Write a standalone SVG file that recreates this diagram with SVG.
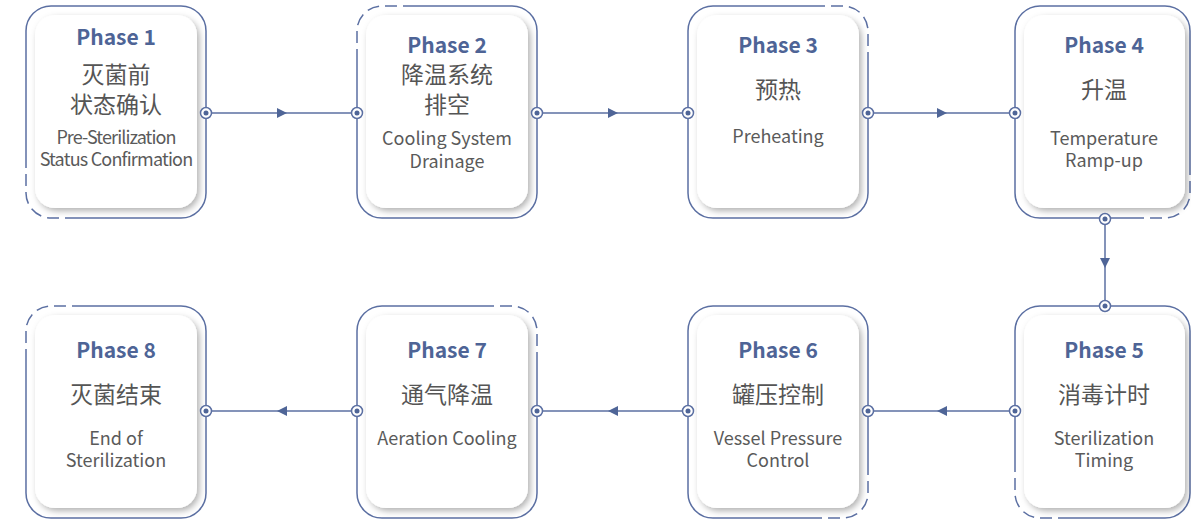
<svg xmlns="http://www.w3.org/2000/svg" width="1191" height="521" viewBox="0 0 1191 521">
<defs>
<style>
.frame{fill:none;stroke:#5b6fa2;stroke-width:1.5}
.dash{fill:none;stroke:#5b6fa2;stroke-width:1.5;stroke-dasharray:12 6}
.card{fill:#fff;filter:url(#sh)}
.ph{font-family:"Noto Sans CJK SC","Noto Sans",sans-serif;font-weight:bold;font-size:21px;fill:#4e6496;text-anchor:middle}
.cn{font-family:"Noto Sans CJK SC",sans-serif;font-size:23px;fill:#555;text-anchor:middle}
.en{font-family:"Noto Sans CJK SC","Noto Sans",sans-serif;font-size:18px;fill:#5a5a5a;text-anchor:middle}
.conn{fill:none;stroke:#5b6fa2;stroke-width:1.5;marker-mid:url(#arr)}
.port{fill:#fff;stroke:#5b6fa2;stroke-width:1.5}
.dot{fill:#4f6597}
</style>
<filter id="sh" x="-10%" y="-10%" width="125%" height="125%">
<feDropShadow dx="2.5" dy="3" stdDeviation="3" flood-color="#000" flood-opacity="0.3"/>
</filter>
<marker id="arr" viewBox="0 0 10 10" refX="5" refY="5" markerWidth="10" markerHeight="10" markerUnits="userSpaceOnUse" orient="auto">
<path d="M0,0 L10,5 L0,10 z" fill="#4f6597"/>
</marker>
</defs>
<rect width="1191" height="521" fill="#fff"/>

<g id="connectors">
<path class="conn" d="M206,113 L282,113 L357,113"/>
<path class="conn" d="M537,113 L613,113 L688,113"/>
<path class="conn" d="M868,113 L942,113 L1015,113"/>
<path class="conn" d="M1105,219 L1105,263 L1105,306"/>
<path class="conn" d="M1015,411 L942,411 L868,411"/>
<path class="conn" d="M688,411 L613,411 L537,411"/>
<path class="conn" d="M357,411 L282,411 L206,411"/>
</g>

<g id="node1">
<path class="frame" d="M26,163 V31 A25,25 0 0 1 51,6 H181 A25,25 0 0 1 206,31 V193 A25,25 0 0 1 181,218 H77"/>
<path class="dash" d="M77,218 H51 A25,25 0 0 1 26,193 V163"/>
<rect class="card" x="35" y="15" width="162" height="193" rx="20"/>
<text class="ph" x="116" y="45">Phase 1</text>
<text class="cn" x="116" y="83">灭菌前</text>
<text class="cn" x="116" y="113">状态确认</text>
<text class="en" x="116" y="144" letter-spacing="-0.9">Pre-Sterilization</text>
<text class="en" x="116" y="166" letter-spacing="-0.8">Status Confirmation</text>
</g>

<g id="node2">
<path class="frame" d="M412,6 H512 A25,25 0 0 1 537,31 V193 A25,25 0 0 1 512,218 H382 A25,25 0 0 1 357,193 V61"/>
<path class="dash" d="M357,61 V31 A25,25 0 0 1 382,6 H412"/>
<rect class="card" x="366" y="15" width="162" height="193" rx="20"/>
<text class="ph" x="447" y="53">Phase 2</text>
<text class="cn" x="447" y="83">降温系统</text>
<text class="cn" x="447" y="113">排空</text>
<text class="en" x="447" y="145">Cooling System</text>
<text class="en" x="447" y="168">Drainage</text>
</g>

<g id="node3">
<path class="frame" d="M868,61 V193 A25,25 0 0 1 843,218 H713 A25,25 0 0 1 688,193 V31 A25,25 0 0 1 713,6 H813"/>
<path class="dash" d="M813,6 H843 A25,25 0 0 1 868,31 V61"/>
<rect class="card" x="697" y="15" width="162" height="193" rx="20"/>
<text class="ph" x="778" y="53">Phase 3</text>
<text class="cn" x="778" y="98">预热</text>
<text class="en" x="778" y="143">Preheating</text>
</g>

<g id="node4">
<path class="frame" d="M1135,218 H1040 A25,25 0 0 1 1015,193 V31 A25,25 0 0 1 1040,6 H1165 A25,25 0 0 1 1190,31 V163"/>
<path class="dash" d="M1190,163 V193 A25,25 0 0 1 1165,218 H1135"/>
<rect class="card" x="1024" y="15" width="161" height="193" rx="20"/>
<text class="ph" x="1104" y="53">Phase 4</text>
<text class="cn" x="1104" y="98">升温</text>
<text class="en" x="1104" y="145">Temperature</text>
<text class="en" x="1104" y="167">Ramp-up</text>
</g>

<g id="node5">
<path class="frame" d="M1015,463 V331 A25,25 0 0 1 1040,306 H1165 A25,25 0 0 1 1190,331 V493 A25,25 0 0 1 1165,518 H1070"/>
<path class="dash" d="M1070,518 H1040 A25,25 0 0 1 1015,493 V463"/>
<rect class="card" x="1024" y="315" width="161" height="193" rx="20"/>
<text class="ph" x="1104" y="358">Phase 5</text>
<text class="cn" x="1104" y="403">消毒计时</text>
<text class="en" x="1104" y="445">Sterilization</text>
<text class="en" x="1104" y="467">Timing</text>
</g>

<g id="node6">
<path class="frame" d="M813,518 H713 A25,25 0 0 1 688,493 V331 A25,25 0 0 1 713,306 H843 A25,25 0 0 1 868,331 V463"/>
<path class="dash" d="M868,463 V493 A25,25 0 0 1 843,518 H813"/>
<rect class="card" x="697" y="315" width="162" height="193" rx="20"/>
<text class="ph" x="778" y="358">Phase 6</text>
<text class="cn" x="778" y="403">罐压控制</text>
<text class="en" x="778" y="445">Vessel Pressure</text>
<text class="en" x="778" y="467">Control</text>
</g>

<g id="node7">
<path class="frame" d="M537,361 V493 A25,25 0 0 1 512,518 H382 A25,25 0 0 1 357,493 V331 A25,25 0 0 1 382,306 H482"/>
<path class="dash" d="M482,306 H512 A25,25 0 0 1 537,331 V361"/>
<rect class="card" x="366" y="315" width="162" height="193" rx="20"/>
<text class="ph" x="447" y="358">Phase 7</text>
<text class="cn" x="447" y="403">通气降温</text>
<text class="en" x="447" y="445">Aeration Cooling</text>
</g>

<g id="node8">
<path class="frame" d="M81,306 H181 A25,25 0 0 1 206,331 V493 A25,25 0 0 1 181,518 H51 A25,25 0 0 1 26,493 V361"/>
<path class="dash" d="M26,361 V331 A25,25 0 0 1 51,306 H81"/>
<rect class="card" x="35" y="315" width="162" height="193" rx="20"/>
<text class="ph" x="116" y="358">Phase 8</text>
<text class="cn" x="116" y="403">灭菌结束</text>
<text class="en" x="116" y="445">End of</text>
<text class="en" x="116" y="467">Sterilization</text>
</g>

<g id="ports">
<g class="port">
<circle cx="206" cy="113" r="5.5"/><circle cx="357" cy="113" r="5.5"/><circle cx="537" cy="113" r="5.5"/><circle cx="688" cy="113" r="5.5"/><circle cx="868" cy="113" r="5.5"/><circle cx="1015" cy="113" r="5.5"/>
<circle cx="1105" cy="219" r="5.5"/><circle cx="1105" cy="306" r="5.5"/>
<circle cx="1015" cy="411" r="5.5"/><circle cx="868" cy="411" r="5.5"/><circle cx="688" cy="411" r="5.5"/><circle cx="537" cy="411" r="5.5"/><circle cx="357" cy="411" r="5.5"/><circle cx="206" cy="411" r="5.5"/>
</g>
<g class="dot">
<circle cx="206" cy="113" r="2.5"/><circle cx="357" cy="113" r="2.5"/><circle cx="537" cy="113" r="2.5"/><circle cx="688" cy="113" r="2.5"/><circle cx="868" cy="113" r="2.5"/><circle cx="1015" cy="113" r="2.5"/>
<circle cx="1105" cy="219" r="2.5"/><circle cx="1105" cy="306" r="2.5"/>
<circle cx="1015" cy="411" r="2.5"/><circle cx="868" cy="411" r="2.5"/><circle cx="688" cy="411" r="2.5"/><circle cx="537" cy="411" r="2.5"/><circle cx="357" cy="411" r="2.5"/><circle cx="206" cy="411" r="2.5"/>
</g>
</g>
</svg>
